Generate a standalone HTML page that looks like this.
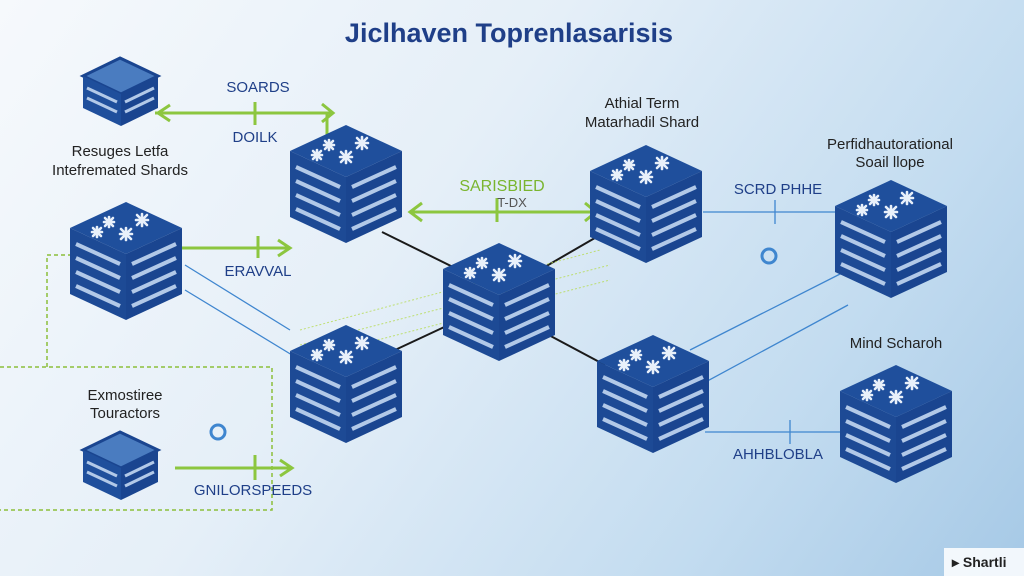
<!DOCTYPE html>
<html><head><meta charset="utf-8"><style>
html,body{margin:0;padding:0}
body{width:1024px;height:576px;overflow:hidden;background:linear-gradient(125deg,#f6f9fc 0%,#e5eff8 40%,#c3dcf0 75%,#a6c9e6 100%);font-family:"Liberation Sans",sans-serif}
</style></head><body>
<svg width="1024" height="576" xmlns="http://www.w3.org/2000/svg" style="position:absolute;left:0;top:0">
<defs>
<g id="cube">
  <polygon points="56,0 112,26 56,52 0,26" fill="#1f4f9c"/>
  <polygon points="0,26 56,52 56,118 0,92" fill="#1d4a95"/>
  <polygon points="56,52 112,26 112,92 56,118" fill="#1a4590"/>
  <g stroke="#e8f0fa" stroke-width="2.6" stroke-linecap="round">
    <path d="M34,20 l10,0 M39,15 l0,10 M35,16 l8,8 M43,16 l-8,8"/>
    <path d="M66,18 l12,0 M72,12 l0,12 M67,13 l10,10 M77,13 l-10,10"/>
    <path d="M50,32 l12,0 M56,26 l0,12 M51,27 l10,10 M61,27 l-10,10"/>
    <path d="M22,30 l10,0 M27,25 l0,10 M23,26 l8,8 M31,26 l-8,8"/>
  </g>
  <g stroke="#b2c9e8" stroke-width="4" fill="none">
    <path d="M6,42 L50,62 M6,56 L50,76 M6,70 L50,90 M6,84 L50,104"/>
    <path d="M62,62 L106,42 M62,76 L106,56 M62,90 L106,70 M62,104 L106,84"/>
  </g>
</g>
<g id="scube">
  <polygon points="37,0 75,18 38,36 0,18" fill="#4a7cc0" stroke="#1a4590" stroke-width="3"/>
  <polygon points="0,18 38,36 38,68 0,50" fill="#1f4f9c"/>
  <polygon points="38,36 75,18 75,50 38,68" fill="#1a4590"/>
  <g stroke="#b2c9e8" stroke-width="3"><path d="M4,30 L34,44 M4,40 L34,54 M42,44 L71,30 M42,54 L71,40"/></g>
</g>
</defs>

<text x="509" y="42" text-anchor="middle" font-size="27" font-weight="bold" fill="#1f3f88">Jiclhaven Toprenlasarisis</text>

<g stroke="#8cbf3a" stroke-width="1.5" stroke-dasharray="4,3" fill="none">
  <path d="M0,367 L272,367 L272,510 L0,510"/>
  <path d="M47,367 L47,255 L72,255"/>
</g>

<g stroke="#1a1a1a" stroke-width="2">
  <path d="M382,232 L455,268 M543,268 L600,235 M395,350 L455,322 M545,333 L605,365"/>
</g>

<g stroke="#3f86cf" stroke-width="1.3" fill="none">
  <path d="M703,212 L835,212 M775,200 L775,224"/>
  <path d="M705,432 L842,432 M790,420 L790,444"/>
  <path d="M690,350 L848,270 M700,385 L848,305"/>
  <path d="M185,265 L290,330 M185,290 L292,355"/>
</g>

<g stroke="#8cc63f" stroke-width="3" fill="none">
  <path d="M155,113 L333,113 M255,102 L255,125 M170,105 L158,113 L170,121 M322,104 L333,113 L322,122 M327,113 L327,135"/>
  <path d="M410,212 L596,212 M497,198 L497,222 M422,203 L410,212 L422,221 M585,203 L596,212 L585,221"/>
  <path d="M182,248 L290,248 M258,236 L258,258 M278,240 L290,248 L278,256"/>
  <path d="M175,468 L292,468 M255,455 L255,480 M280,460 L292,468 L280,476"/>
</g>
<g stroke="#b7dc55" stroke-width="1" stroke-dasharray="2,2" opacity="0.8">
  <path d="M300,330 L600,250 M300,345 L610,265 M300,360 L610,280"/>
</g>

<use href="#scube" x="83" y="58"/>
<use href="#scube" x="83" y="432"/>
<use href="#cube" x="290" y="125"/>
<use href="#cube" x="70" y="202"/>
<use href="#cube" x="290" y="325"/>
<use href="#cube" x="443" y="243"/>
<use href="#cube" x="590" y="145"/>
<use href="#cube" x="597" y="335"/>
<use href="#cube" x="835" y="180"/>
<use href="#cube" x="840" y="365"/>

<circle cx="218" cy="432" r="7" fill="none" stroke="#3f86cf" stroke-width="3"/>
<circle cx="769" cy="256" r="7" fill="none" stroke="#3f86cf" stroke-width="3"/>

<g font-size="15" fill="#1f3f88">
  <text x="258" y="92" text-anchor="middle">SOARDS</text>
  <text x="255" y="142" text-anchor="middle">DOILK</text>
  <text x="120" y="156" text-anchor="middle" fill="#222">Resuges Letfa</text>
  <text x="120" y="175" text-anchor="middle" fill="#222">Intefremated Shards</text>
  <text x="258" y="276" text-anchor="middle">ERAVVAL</text>
  <text x="502" y="191" text-anchor="middle" fill="#7ab52f" font-size="16">SARISBIED</text>
  <text x="512" y="207" text-anchor="middle" fill="#555" font-size="13">T-DX</text>
  <text x="642" y="108" text-anchor="middle" fill="#222">Athial Term</text>
  <text x="642" y="127" text-anchor="middle" fill="#222">Matarhadil Shard</text>
  <text x="778" y="194" text-anchor="middle">SCRD PHHE</text>
  <text x="890" y="149" text-anchor="middle" fill="#222">Perfidhautorational</text>
  <text x="890" y="167" text-anchor="middle" fill="#222">Soail llope</text>
  <text x="896" y="348" text-anchor="middle" fill="#222">Mind Scharoh</text>
  <text x="778" y="459" text-anchor="middle">AHHBLOBLA</text>
  <text x="125" y="400" text-anchor="middle" fill="#222">Exmostiree</text>
  <text x="125" y="418" text-anchor="middle" fill="#222">Touractors</text>
  <text x="253" y="495" text-anchor="middle">GNILORSPEEDS</text>
</g>
<rect x="944" y="548" width="80" height="28" fill="#ffffff" opacity="0.85"/>
<text x="952" y="567" font-size="14" font-weight="bold" fill="#222">▸ Shartli</text>
</svg>
</body></html>
